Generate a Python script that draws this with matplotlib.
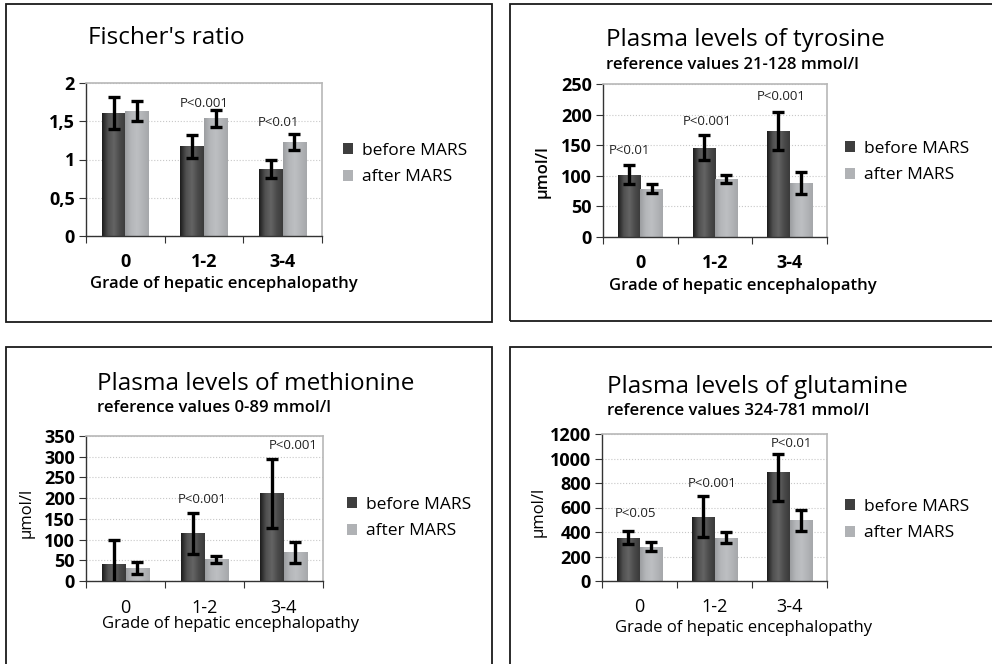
import matplotlib
matplotlib.use("Agg")
import matplotlib.pyplot as plt
import numpy as np
from matplotlib.patches import Rectangle, Patch

plt.rcParams['font.family'] = ['Open Sans', 'DejaVu Sans']

W, H = 992, 664

groups = ["0", "1-2", "3-4"]
series = ["before MARS", "after MARS"]

# Fischer's ratio (error bars: lower, upper)
fis_before = [1.61, 1.17, 0.88]
fis_before_err = [[0.21, 0.15, 0.12], [0.21, 0.15, 0.12]]
fis_after = [1.63, 1.54, 1.23]
fis_after_err = [[0.13, 0.11, 0.10], [0.13, 0.11, 0.10]]
fis_p = ["", "P<0.001", "P<0.01"]

# tyrosine
tyr_before = [102, 146, 173]
tyr_before_err = [[16, 20, 31], [16, 20, 31]]
tyr_after = [79, 95, 89]
tyr_after_err = [[7, 7, 18], [7, 7, 18]]
tyr_p = ["P<0.01", "P<0.001", "P<0.001"]

# methionine
met_before = [40, 115, 212]
met_before_err = [[58, 50, 85], [58, 50, 82]]
met_after = [31, 52, 69]
met_after_err = [[15, 9.5, 26], [15, 9.5, 26]]
met_p = ["", "P<0.001", "P<0.001"]

# glutamine
glu_before = [355, 526, 890]
glu_before_err = [[57, 170, 237], [57, 170, 149]]
glu_after = [281, 355, 498]
glu_after_err = [[38, 48, 88], [38, 48, 80]]
glu_p = ["P<0.05", "P<0.001", "P<0.01"]


def px(x, y):
    return x / W, 1 - y / H


def add_gradient(ax, bars, stops):
    cols = np.array([matplotlib.colors.to_rgb(c) for c in stops])
    n = 64
    t = np.linspace(0, 1, n)
    pos = np.linspace(0, 1, len(cols))
    img = np.stack([np.interp(t, pos, cols[:, k]) for k in range(3)], axis=-1)[None, :, :]
    for b in bars:
        x0, y0 = b.get_xy()
        w, h = b.get_width(), b.get_height()
        im = ax.imshow(img, extent=(x0, x0 + w, y0, y0 + h), aspect='auto',
                       interpolation='bilinear', zorder=2)
        im.set_clip_path(b)


fig = plt.figure(figsize=(W / 100, H / 100), dpi=100)

# panel frames
frames = [(6, 4, 486, 318), (510, 4, 490, 317), (6, 347, 486, 330), (510, 347, 490, 330)]
for fx0, fy0, fw, fh in frames:
    x0, y1 = px(fx0, fy0 + fh)
    fig.patches.append(Rectangle((x0, y1), fw / W, fh / H, transform=fig.transFigure,
                                 fill=False, edgecolor='#1a1a1a', lw=1.3))

panels = [
    dict(before=fis_before, berr=fis_before_err, after=fis_after, aerr=fis_after_err, p=fis_p,
         rect=(86, 83, 322, 236), ymax=2, step=0.5, fmt=lambda v: ("%g" % v).replace('.', ','),
         title="Fischer's ratio", tpos=(88, 44), sub=None, ylab=None,
         p_pos=[(0, 0), (0.0, 1.73), (-0.05, 1.49)],
         tick_y=262, xl=(224, 284), xl_w='semibold', tk_w='bold', leg=(343, 164)),
    dict(before=tyr_before, berr=tyr_before_err, after=tyr_after, aerr=tyr_after_err, p=tyr_p,
         rect=(603, 84, 827, 237), ymax=250, step=50, fmt=lambda v: "%d" % v,
         title="Plasma levels of tyrosine", tpos=(606, 46), sub=("reference values 21-128 mmol/l", 69),
         ylab=(543, 172), p_pos=[(-0.15, 142), (-0.1, 189), (-0.12, 229)],
         tick_y=263, xl=(743, 286), xl_w='semibold', tk_w='bold', leg=(845, 162)),
    dict(before=met_before, berr=met_before_err, after=met_after, aerr=met_after_err, p=met_p,
         rect=(86, 436, 323, 581), ymax=350, step=50, fmt=lambda v: "%d" % v,
         title="Plasma levels of methionine", tpos=(97, 390), sub=("reference values 0-89 mmol/l", 412),
         ylab=(27, 513), p_pos=[(0, 0), (-0.03, 197), (0.12, 326)],
         tick_y=608, xl=(231, 624), xl_w='normal', tk_w='normal', leg=(347, 518)),
    dict(before=glu_before, berr=glu_before_err, after=glu_after, aerr=glu_after_err, p=glu_p,
         rect=(602, 434, 827, 581), ymax=1200, step=200, fmt=lambda v: "%d" % v,
         title="Plasma levels of glutamine", tpos=(607, 393), sub=("reference values 324-781 mmol/l", 415),
         ylab=(539, 512), p_pos=[(-0.05, 551), (-0.03, 796), (0.03, 1120)],
         tick_y=607, xl=(744, 628), xl_w='normal', tk_w='normal', leg=(845, 520)),
]

x = np.arange(len(groups))
bw = 0.3

for pn in panels:
    l, t, r, b = pn['rect']
    ax = fig.add_axes([l / W, 1 - b / H, (r - l) / W, (b - t) / H])
    bars_b = ax.bar(x - bw / 2, pn['before'], bw, color='#4a4a4a', zorder=2, label=series[0])
    bars_a = ax.bar(x + bw / 2, pn['after'], bw, color='#b2b4b7', zorder=2, label=series[1])
    add_gradient(ax, bars_b, ['#1c1c1c', '#505050', '#646464', '#4a4a4a', '#3a3a3a'])
    add_gradient(ax, bars_a, ['#9c9ea1', '#b4b6b9', '#bdbfc2', '#b2b4b7', '#a6a8ab'])
    ax.errorbar(x - bw / 2, pn['before'], yerr=pn['berr'], fmt='none', ecolor='black',
                elinewidth=2.4, capsize=4, capthick=2.4, zorder=4)
    ax.errorbar(x + bw / 2, pn['after'], yerr=pn['aerr'], fmt='none', ecolor='black',
                elinewidth=2.4, capsize=4, capthick=2.4, zorder=4)

    for i, (txt, (dx, yy)) in enumerate(zip(pn['p'], pn['p_pos'])):
        if txt:
            ax.text(i + dx, yy, txt, ha='center', va='center', fontsize=9.5, color='#222222', zorder=5)

    ax.set_xlim(-0.5, len(groups) - 0.5)
    ax.set_ylim(0, pn['ymax'])
    yt = np.arange(0, pn['ymax'] + pn['step'] / 2, pn['step'])
    ax.set_yticks(yt)
    ax.set_yticklabels([pn['fmt'](v) for v in yt], fontsize=13, fontweight='bold')
    ax.yaxis.grid(True, color='#c8c8c8', linestyle=':', linewidth=0.8)
    ax.set_axisbelow(True)
    ax.tick_params(axis='y', length=5, width=0.8, color='#333333', pad=3)

    ax.set_xticks(np.arange(len(groups) + 1) - 0.5)
    ax.set_xticklabels([])
    ax.tick_params(axis='x', which='major', length=5, width=0.8, color='#333333')
    ax.set_xticks(x, minor=True)
    ax.set_xticklabels([], minor=True)
    ax.tick_params(axis='x', which='minor', length=0)
    for i, g in enumerate(groups):
        fig.text(*px(l + (r - l) * (i + 0.5) / len(groups), pn['tick_y']), g,
                 ha='center', va='center', fontsize=13, fontweight=pn['tk_w'])

    for s in ['top', 'right']:
        ax.spines[s].set_color('#b8b8b8')
        ax.spines[s].set_linewidth(1.2)
    for s in ['left', 'bottom']:
        ax.spines[s].set_color('#333333')
        ax.spines[s].set_linewidth(1.0)

    fig.text(*px(*pn['tpos']), pn['title'], ha='left', va='baseline', fontsize=17.5, fontweight='medium')
    if pn['sub']:
        fig.text(*px(pn['tpos'][0], pn['sub'][1]), pn['sub'][0], ha='left', va='baseline',
                 fontsize=12, fontweight='semibold')
    if pn['ylab']:
        fig.text(*px(*pn['ylab']), "µmol/l", ha='center', va='center', rotation=90,
                 fontsize=12, fontweight=pn['xl_w'])
    fig.text(*px(*pn['xl']), "Grade of hepatic encephalopathy", ha='center', va='center',
             fontsize=12, fontweight=pn['xl_w'])

    handles = [Patch(facecolor='#3e3e3e', edgecolor='none'), Patch(facecolor='#b0b2b5', edgecolor='none')]
    ax.legend(handles, series, loc='center left', bbox_to_anchor=px(*pn['leg']),
              bbox_transform=fig.transFigure, frameon=False, fontsize=12.5,
              handlelength=0.6, handleheight=0.6, handletextpad=0.5, labelspacing=0.6,
              borderpad=0, borderaxespad=0)

fig.savefig("out.png", dpi=100)
